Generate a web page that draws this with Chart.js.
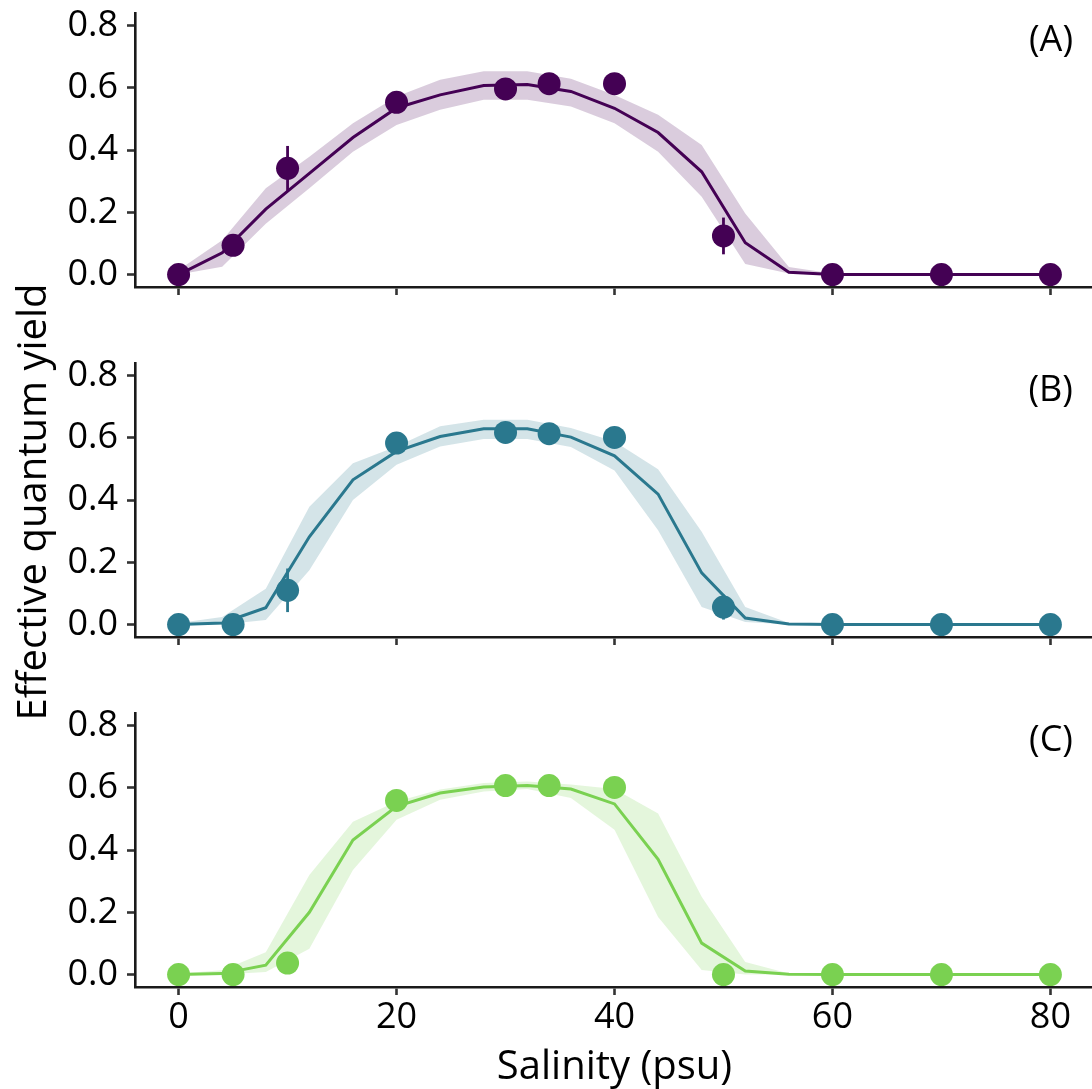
<!DOCTYPE html>
<html>
<head>
<meta charset="utf-8">
<script src="https://cdn.jsdelivr.net/npm/chart.js@4.4.1/dist/chart.umd.min.js"></script>
<style>
  html, body { margin: 0; padding: 0; background: #fff; }
  body { width: 1092px; height: 1089px; overflow: hidden; position: relative; font-family: "Open Sans", sans-serif; color: #000; }
  .panel { position: absolute; left: 0; }
  .tag { position: absolute; right: 19px; font-size: 36px; line-height: 36px; }
  #ytitle { position: absolute; left: -269px; top: 482px; width: 600px; text-align: center;
            font-size: 40px; line-height: 40px; transform: rotate(-90deg); white-space: nowrap; }
  #xtitle { position: absolute; left: 135px; width: 959px; top: 1039px; text-align: center;
            font-size: 40px; line-height: 50px; white-space: nowrap; }
</style>
</head>
<body>
<canvas id="cA" class="panel" style="top:0" width="1094" height="350"></canvas>
<canvas id="cB" class="panel" style="top:350px" width="1094" height="350"></canvas>
<canvas id="cC" class="panel" style="top:700px" width="1094" height="389"></canvas>
<div class="tag" style="top:20px">(A)</div>
<div class="tag" style="top:370px">(B)</div>
<div class="tag" style="top:720px">(C)</div>
<div id="ytitle">Effective quantum yield</div>
<div id="xtitle">Salinity (psu)</div>
<script>
/* ---------- data ---------- */
var salinity = [0, 5, 10, 20, 30, 34, 40, 50, 60, 70, 80];
var yieldA = [0, 0.094, 0.341, 0.553, 0.596, 0.613, 0.613, 0.124, 0, 0, 0];
var errA   = [0, 0.005, 0.072, 0.01, 0.01, 0.01, 0.01, 0.059, 0, 0, 0];
var yieldB = [0, 0, 0.11, 0.583, 0.617, 0.613, 0.601, 0.056, 0, 0, 0];
var errB   = [0, 0, 0.07, 0.01, 0.01, 0.01, 0.01, 0.04, 0, 0, 0];
var yieldC = [0, 0, 0.037, 0.559, 0.607, 0.607, 0.601, 0, 0, 0, 0];
var errC   = [0, 0, 0.01, 0.01, 0.01, 0.01, 0.01, 0, 0, 0, 0];

var fitX  = [0, 4, 8, 12, 16, 20, 24, 28, 32, 36, 40, 44, 48, 52, 56, 60, 64, 68, 72, 76, 80];
var fitA  = [0, 0.07, 0.21, 0.325, 0.44, 0.535, 0.577, 0.607, 0.61, 0.588, 0.534, 0.456, 0.33, 0.102, 0.007, 0, 0, 0, 0, 0, 0];
var loA   = [0, 0.025, 0.163, 0.277, 0.394, 0.48, 0.529, 0.561, 0.561, 0.54, 0.486, 0.394, 0.25, 0.034, 0.003, 0, 0, 0, 0, 0, 0];
var hiA   = [0.015, 0.11, 0.277, 0.378, 0.486, 0.572, 0.626, 0.653, 0.653, 0.629, 0.577, 0.513, 0.416, 0.196, 0.024, 0.003, 0, 0, 0, 0, 0];
var fitB  = [0, 0.005, 0.054, 0.282, 0.465, 0.556, 0.604, 0.629, 0.629, 0.602, 0.542, 0.419, 0.166, 0.021, 0.002, 0, 0, 0, 0, 0, 0];
var loB   = [0, 0, 0.015, 0.174, 0.4, 0.513, 0.572, 0.596, 0.596, 0.57, 0.495, 0.303, 0.056, 0.008, 0, 0, 0, 0, 0, 0, 0];
var hiB   = [0.005, 0.024, 0.115, 0.378, 0.518, 0.572, 0.637, 0.658, 0.658, 0.631, 0.588, 0.499, 0.298, 0.056, 0.005, 0, 0, 0, 0, 0, 0];
var fitC  = [0, 0.003, 0.03, 0.2, 0.432, 0.54, 0.583, 0.602, 0.607, 0.596, 0.548, 0.37, 0.101, 0.011, 0.001, 0, 0, 0, 0, 0, 0];
var loC   = [0, 0, 0.008, 0.083, 0.336, 0.497, 0.561, 0.588, 0.596, 0.567, 0.465, 0.185, 0.015, 0, 0, 0, 0, 0, 0, 0, 0];
var hiC   = [0.003, 0.014, 0.072, 0.32, 0.491, 0.556, 0.594, 0.615, 0.62, 0.61, 0.596, 0.517, 0.25, 0.04, 0.003, 0, 0, 0, 0, 0, 0];

var yTicks = [0, 0.2, 0.4, 0.6, 0.8];
var xTicks = [0, 20, 40, 60, 80];

var AXIS_COL = '#1a1a1a';

function pts(xs, ys) { return xs.map(function (x, i) { return { x: x, y: ys[i] }; }); }

function panel(id, obs, err, fit, lo, hi, color, band, showX, xHeight) {
  var ds = [];
  ds.push({ label: 'obs', data: pts(salinity, obs), showLine: false,
            pointRadius: 11.5, pointHoverRadius: 11.5, pointBorderWidth: 0,
            pointBackgroundColor: color, order: 0 });
  salinity.forEach(function (x, i) {
    if (!err[i]) return;
    ds.push({ label: 'err', data: [{ x: x, y: obs[i] - err[i] }, { x: x, y: obs[i] + err[i] }],
              borderColor: color, borderWidth: 2.8, pointRadius: 0, fill: false, order: 1 });
  });
  ds.push({ label: 'fit', data: pts(fitX, fit), borderColor: color, borderWidth: 3,
            pointRadius: 0, fill: false, tension: 0, order: 2 });
  ds.push({ label: 'hi', data: pts(fitX, hi), borderWidth: 0, pointRadius: 0,
            backgroundColor: band, fill: '+1', tension: 0, order: 3 });
  ds.push({ label: 'lo', data: pts(fitX, lo), borderWidth: 0, pointRadius: 0,
            fill: false, tension: 0, order: 4 });

  return new Chart(document.getElementById(id), {
    type: 'line',
    data: { datasets: ds },
    options: {
      responsive: false, animation: false, events: [],
      layout: { autoPadding: false, padding: { top: 13, left: 0, right: 0, bottom: 0 } },
      plugins: { legend: { display: false }, tooltip: { enabled: false } },
      scales: {
        x: {
          type: 'linear', min: -4, max: 84, position: 'bottom',
          afterBuildTicks: function (s) { s.ticks = xTicks.map(function (v) { return { value: v }; }); },
          afterFit: function (s) { s.height = xHeight; s.paddingLeft = 0; s.paddingRight = 0; },
          grid: { drawOnChartArea: false, tickLength: 8, tickWidth: 2.6, tickColor: '#333' },
          border: { color: AXIS_COL, width: 2.6 },
          ticks: { display: showX, color: '#000', padding: 1, maxRotation: 0,
                   font: { size: 36, family: "'Open Sans'" } }
        },
        y: {
          min: -0.04, max: 0.84,
          afterBuildTicks: function (s) { s.ticks = yTicks.map(function (v) { return { value: v }; }); },
          afterFit: function (s) { s.width = 135; s.paddingTop = 0; s.paddingBottom = 0; },
          grid: { drawOnChartArea: false, tickLength: 8, tickWidth: 2.6, tickColor: '#333' },
          border: { color: AXIS_COL, width: 2.6 },
          ticks: { color: '#000', padding: 9,
                   font: { size: 36, family: "'Open Sans'" },
                   callback: function (v) { return Number(v).toFixed(1); } }
        }
      }
    }
  });
}

function draw() {
  panel('cA', yieldA, errA, fitA, loA, hiA, '#440154', 'rgba(68,1,84,0.2)', false, 63);
  panel('cB', yieldB, errB, fitB, loB, hiB, '#2A788E', 'rgba(42,120,142,0.2)', false, 63);
  panel('cC', yieldC, errC, fitC, loC, hiC, '#7AD151', 'rgba(122,209,81,0.2)', true, 102);
}

if (document.fonts && document.fonts.load) {
  document.fonts.load('36px "Open Sans"').then(draw, draw);
} else {
  draw();
}
</script>
</body>
</html>
